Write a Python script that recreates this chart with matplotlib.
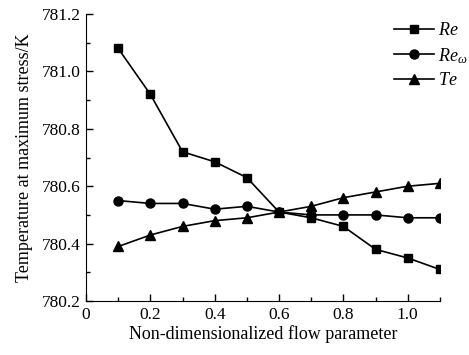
import matplotlib
matplotlib.use('Agg')
import matplotlib.pyplot as plt
from matplotlib.ticker import MultipleLocator

plt.rcParams['font.family'] = ['Liberation Serif', 'DejaVu Serif']
plt.rcParams['mathtext.fontset'] = 'custom'
plt.rcParams['mathtext.it'] = 'Liberation Serif:italic'
plt.rcParams['mathtext.rm'] = 'Liberation Serif'

# data
flow = [0.1, 0.2, 0.3, 0.4, 0.5, 0.6, 0.7, 0.8, 0.9, 1.0, 1.1]
re = [781.08, 780.92, 780.72, 780.685, 780.63, 780.51, 780.49, 780.46, 780.38, 780.35, 780.31]
re_w = [780.55, 780.54, 780.54, 780.52, 780.53, 780.51, 780.50, 780.50, 780.50, 780.49, 780.49]
te = [780.39, 780.43, 780.46, 780.48, 780.49, 780.51, 780.53, 780.56, 780.58, 780.60, 780.61]

fig = plt.figure(figsize=(4.69, 3.55), dpi=100)
ax = fig.add_axes([0.1834, 0.152, 0.7546, 0.8086])

ax.plot(flow, re, marker='s', color='black', lw=1.2, ms=6, label=r'$Re$')
ax.plot(flow, re_w, marker='o', color='black', lw=1.2, ms=6.5, label=r'$Re_{\omega}$')
ax.plot(flow, te, marker='^', color='black', lw=1.2, ms=7, label=r'$Te$')

ax.set_xlim(0, 1.1)
ax.set_ylim(780.2, 781.2)
ax.xaxis.set_minor_locator(MultipleLocator(0.1))
ax.yaxis.set_minor_locator(MultipleLocator(0.1))
ax.set_xticks([0, 0.2, 0.4, 0.6, 0.8, 1.0])
ax.set_xticklabels(['0', '0.2', '0.4', '0.6', '0.8', '1.0'])
ax.set_yticks([780.2, 780.4, 780.6, 780.8, 781.0, 781.2])
ax.set_yticklabels(['780.2', '780.4', '780.6', '780.8', '781.0', '781.2'])

ax.spines['top'].set_visible(False)
ax.spines['right'].set_visible(False)
ax.tick_params(direction='in', which='major', length=5, width=1, labelsize=12.5, pad=4)
ax.tick_params(direction='in', which='minor', length=3, width=1)

ax.set_xlabel('Non-dimensionalized flow parameter', fontsize=13, labelpad=2)
ax.set_ylabel('Temperature at maximum stress/K', fontsize=13, labelpad=6)

ax.legend(loc='upper right', frameon=False, fontsize=13, handlelength=2.2,
          handletextpad=0.2, borderaxespad=0.2, labelspacing=0.38,
          bbox_to_anchor=(1.107, 1.01))

fig.savefig('out.png', dpi=100)
